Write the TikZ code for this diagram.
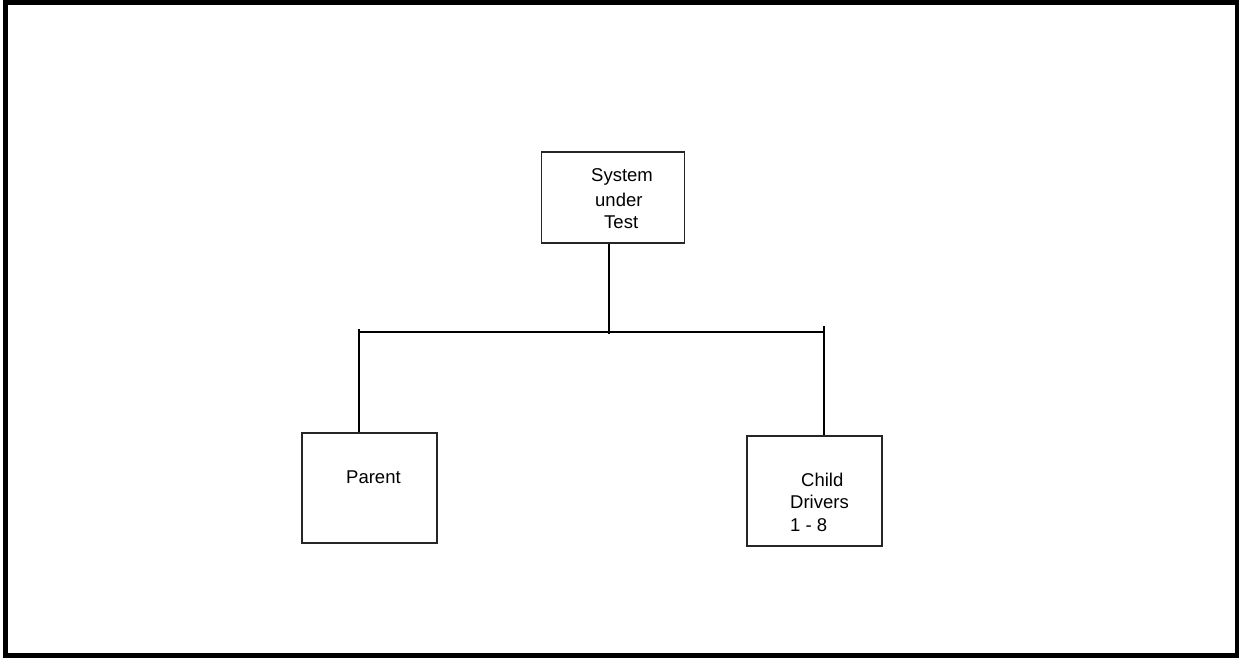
\documentclass[tikz,border=0pt]{standalone}
\usepackage{fontspec}
\setmainfont{Liberation Sans}
\begin{document}
\begin{tikzpicture}[x=1pt,y=-1pt,
  boxst/.style={draw=black!85, line width=1.2pt, inner sep=0pt},
  wire/.style={line width=1.8pt},
  lbl/.style={anchor=west, inner sep=0pt, font=\fontsize{18.5}{22}\selectfont}]
\useasboundingbox (0,0) rectangle (1239,658);
\draw[line width=5pt] (5.5,2.5) rectangle (1237,655.5);
% boxes
\node[boxst, minimum width=143pt, minimum height=91pt] (sut) at (613,197.5) {};
\node[boxst, minimum width=135pt, minimum height=110pt] (par) at (369.5,488) {};
\node[boxst, minimum width=135pt, minimum height=110pt] (chi) at (814.5,491) {};
% texts
\node[lbl] (t1) at (591,177) {System};
\node[lbl] (t2) at (595,200) {under};
\node[lbl] (t3) at (604,222) {Test};
\node[lbl] (t4) at (346,477) {Parent};
\node[lbl] (t5) at (801,480) {Child};
\node[lbl] (t6) at (790,502) {Drivers};
\node[lbl] (t7) at (790,525) {1 - 8};
% connectors
\coordinate (cj) at (609,334);
\coordinate (lj) at (359,329);
\coordinate (rj) at (824,326);
\coordinate (hl) at (359,332);
\coordinate (hr) at (824,332);
\draw[wire] (sut.south -| cj) -- (cj);
\draw[wire] (hl) -- (hr);
\draw[wire] (lj) -- (par.north -| lj);
\draw[wire] (rj) -- (chi.north -| rj);
\end{tikzpicture}
\end{document}
